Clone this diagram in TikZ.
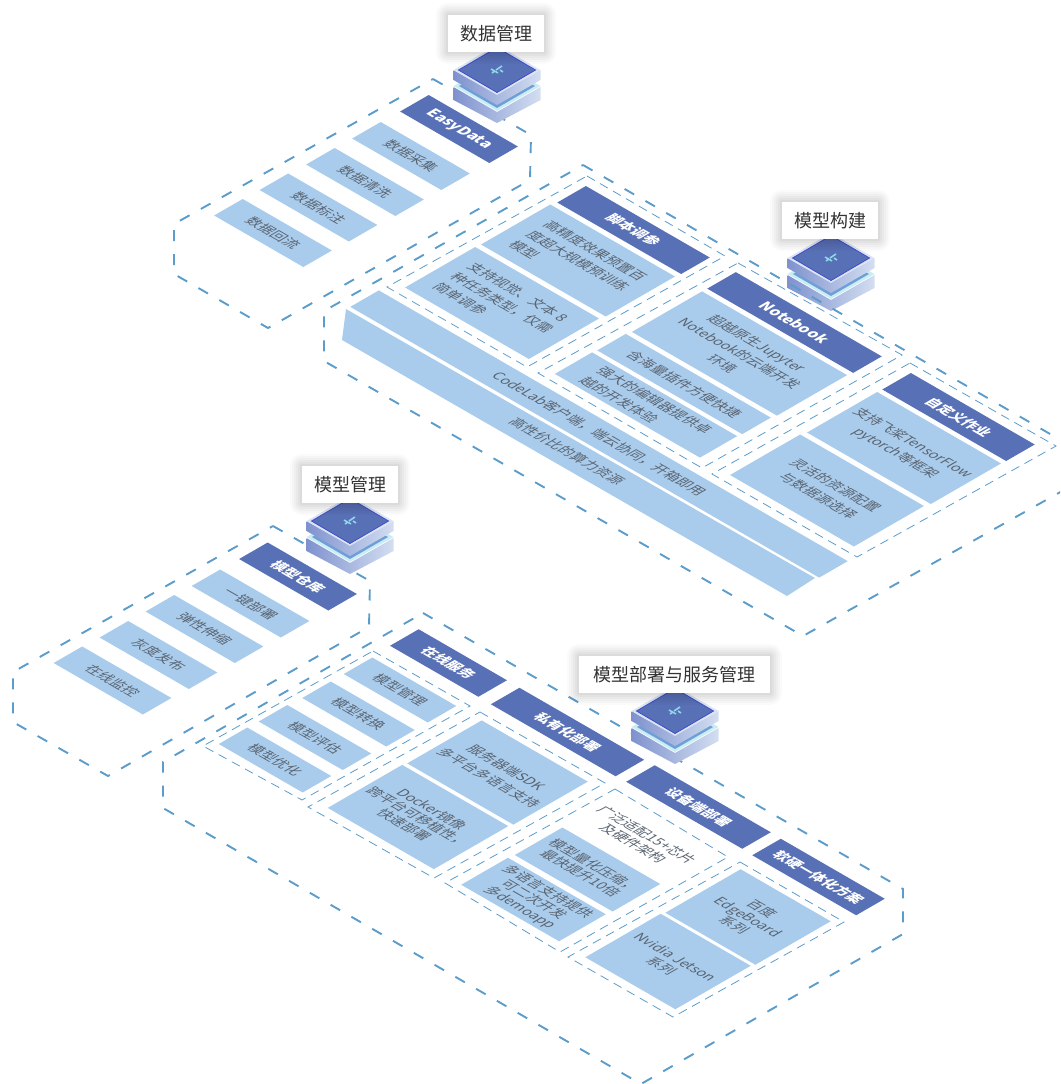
\documentclass[tikz,border=0pt]{standalone}
\usepackage{fontspec}
\setmainfont{Noto Sans CJK SC}
\usetikzlibrary{positioning,calc}
\definecolor{barlight}{HTML}{A9CCED}
\definecolor{bardark}{HTML}{5870B6}
\definecolor{dashblue}{HTML}{5B9CCB}
\definecolor{textgrey}{HTML}{5A6470}
\definecolor{slabdark}{HTML}{7F92CE}
\definecolor{slablight}{HTML}{D3DEF1}
\definecolor{platecyan}{HTML}{C9ECF5}
\definecolor{plateblue}{HTML}{6F9FD6}
\definecolor{platerim}{HTML}{DCE4F4}
\definecolor{platemark}{HTML}{8FD6EA}
\newcommand{\plates}[2]{
  \begin{scope}[shift={(#1,#2)}]
    \shade[left color=slabdark,right color=slablight] (-43.5,17) -- (0,42) -- (43.5,17) -- (43.5,30) -- (0,53) -- (-43.5,30) -- cycle;
    \fill[platecyan] (-43.5,16) -- (0,-9) -- (43.5,16) -- (0,41) -- cycle;
    \fill[plateblue] (-38,16) -- (0,-6) -- (38,16) -- (0,38) -- cycle;
    \shade[left color=slabdark,right color=slablight] (-43.5,0) -- (0,25) -- (43.5,0) -- (43.5,10) -- (0,35) -- (-43.5,10) -- cycle;
    \fill[platerim] (-43.5,0) -- (0,-25) -- (43.5,0) -- (0,25) -- cycle;
    \draw[fill=bardark,draw=bardark!70!blue,line width=.8pt] (-38.5,0) -- (0,-22.5) -- (38.5,0) -- (0,22.5) -- cycle;
    \draw[platemark,line width=1.6pt] (-6,-1) -- (1,3) (5,-4) -- (-1,0) (-5,3) -- (-2,1) (3,0) -- (6,2);
  \end{scope}
}

\begin{document}
\begin{tikzpicture}[x=1pt,y=-1pt,
    isobar/.style={transform shape,cm={.866,-.5,.866,.5,(0,0)},inner sep=0,align=center,font=\fontsize{14}{20}\selectfont},
    lightbar/.style={isobar,fill=barlight,text=textgrey},
    darkbar/.style={isobar,fill=bardark,text=white,font=\fontsize{14}{20}\selectfont\bfseries},
    latinbar/.style={isobar,fill=bardark,text=white,font=\fontsize{15}{20}\selectfont\bfseries},
    barsize/.style 2 args={minimum width=#1pt,minimum height=#2pt},
    tight/.style={font=\fontsize{14}{16}\selectfont},
    outerline/.style={draw=dashblue,line width=1.9pt,dash pattern=on 11pt off 13pt},
    innerline/.style={draw=dashblue,line width=.8pt,dash pattern=on 9pt off 6pt},
    tagbox/.style={fill=white,text=black!80,inner sep=0,minimum height=37pt,font=\fontsize{18}{20}\selectfont,
      preaction={draw=black,opacity=.02,line width=24pt,line join=round},preaction={draw=black,opacity=.02,line width=20pt,line join=round},
      preaction={draw=black,opacity=.025,line width=16pt,line join=round},preaction={draw=black,opacity=.025,line width=12pt,line join=round},
      preaction={draw=black,opacity=.03,line width=8pt,line join=round},preaction={draw=black,opacity=.03,line width=4pt,line join=round}}]
  \useasboundingbox (0,0) rectangle (1060,1084);
  \clip (0,0) rectangle (1060,1084);

  % Plates under the lines of the build part
  \plates{831}{258}

  % Dashed panels
  \draw[outerline] (433,79) -- (531,135) -- (530,180) -- (268,328) -- (174,274) -- (174,224) -- cycle;
  \draw[outerline] (583,165) -- (1064,442) -- (1064,490) -- (803,636) -- (324,361) -- (324,311) -- cycle;
  \draw[outerline] (273,526) -- (370,581) -- (369,627) -- (108,776) -- (13,722) -- (13,672) -- cycle;
  \draw[outerline] (423,613) -- (903,889) -- (903,934) -- (641,1084) -- (163,808) -- (163,762) -- cycle;

  % Thin panels of the build part
  \draw[innerline] (587,176) -- (725,256) -- (527,367) -- (387,287) -- cycle;
  \draw[innerline] (738,263) -- (902,355) -- (702,468) -- (538,373) -- cycle;
  \draw[innerline] (910,363) -- (1056,446) -- (857,557) -- (712,474) -- cycle;

  % Thin panels of the deploy part
  \draw[innerline] (373,651) -- (470,706) -- (302,800) -- (203,746) -- cycle;
  \draw[innerline] (480,712) -- (605,783) -- (434,878) -- (308,807) -- cycle;
  \draw[innerline] (615,789) -- (728,857) -- (560,952) -- (445,883) -- cycle;
  \draw[innerline] (740,862) -- (844,922) -- (673,1017) -- (568,957) -- cycle;

  % Bars for the data part
  \node[latinbar,barsize={103}{33}] (easydata) at (459,129) {EasyData};
  \node[lightbar,barsize={103}{33}] (collect) at (411,156) {数据采集};
  \node[lightbar,barsize={103}{33}] (clean) at (365,182) {数据清洗};
  \node[lightbar,barsize={103}{33}] (tagging) at (318.5,207.5) {数据标注};
  \node[lightbar,barsize={103}{33}] (backflow) at (273,233) {数据回流};

  % Bars for the build part
  \node[darkbar,barsize={143}{33}] (script) at (633.5,230) {脚本调参};
  \node[lightbar,barsize={144}{80}] (preset) at (578,260.5) [align=left] {高精度效果预置百\\度超大规模预训练\\模型};
  \node[lightbar,barsize={143}{81}] (tasks) at (502,303) [align=left] {支持视觉、文本 8\\种任务类型，仅需\\简单调参};
  \node[latinbar,barsize={168.5}{33}] (notebook) at (794.5,322.5) {Notebook};
  \node[lightbar,barsize={167.5}{81}] (jupyter) at (739.5,353.5) {超越原生Jupyter\\Notebook的云端开发\\环境};
  \node[lightbar,barsize={167.5}{33}] (plugin) at (684,384) {含海量插件方便快捷};
  \node[lightbar,barsize={167.5}{43}] (editor) at (646,405) [align=left] {强大的编辑器提供卓\\越的开发体验};
  \node[darkbar,barsize={143}{33}] (custom) at (958.5,417) {自定义作业};
  \node[lightbar,barsize={143}{81}] (frames) at (904,448) {支持飞桨TensorFlow\\pytorch等框架};
  \node[lightbar,barsize={143}{81}] (source) at (827,490.5) {灵活的资源配置\\与数据源选择};
  \node[lightbar,barsize={541.5}{33}] (codelab) at (599,434) {CodeLab客户端，端云协同，开箱即用};
  \fill[barlight] (346,309) -- (815,578) -- (787,596) -- (342,340) -- cycle;
  \node[isobar,text=textgrey] (power) at (567,451) {高性价比的算力资源};

  % Bars for the model part
  \node[darkbar,barsize={103}{33}] (store) at (298,576.5) {模型仓库};
  \node[lightbar,barsize={103}{33}] (oneclick) at (250.5,603.5) {一键部署};
  \node[lightbar,barsize={103}{33}] (elastic) at (204.5,629) {弹性伸缩};
  \node[lightbar,barsize={103}{33}] (gray) at (158.5,655) {灰度发布};
  \node[lightbar,barsize={103}{33}] (monitor) at (112.5,680.5) {在线监控};

  % Bars for the deploy part
  \node[darkbar,barsize={102}{33}] (online) at (448.5,663) {在线服务};
  \node[lightbar,barsize={97}{33}] (manage) at (400,690) {模型管理};
  \node[lightbar,barsize={97}{33}] (convert) at (358.5,714) {模型转换};
  \node[lightbar,barsize={97}{33}] (assess) at (315,737.5) {模型评估};
  \node[lightbar,barsize={97}{33}] (optimize) at (275,760) {模型优化};
  \node[darkbar,barsize={144}{33}] (private) at (567.5,732) {私有化部署};
  \node[lightbar,barsize={122.5}{86}] (sdk) at (497.5,772.5) {服务器端SDK\\多平台多语言支持};
  \node[lightbar,barsize={122.5}{86},tight] (docker) at (418,817) {Docker镜像\\跨平台可移植性，\\快速部署};
  \node[darkbar,barsize={134}{33}] (device) at (698.5,807) {设备端部署};
  \node[isobar,text=textgrey,tight] (chips) at (640,839) {广泛适配15+芯片\\及硬件架构};
  \node[lightbar,barsize={113}{55},tight] (quant) at (587.5,869.5) {模型量化压缩，\\最快提升10倍};
  \node[lightbar,barsize={113}{54},tight] (demo) at (533.5,899.5) {多语言支持提供\\可二次开发\\多demoapp};
  \node[darkbar,barsize={120}{33}] (soft) at (818.5,877) {软硬一体化方案};
  \node[lightbar,barsize={104}{87},tight] (baidu) at (748,917) {百度\\EdgeBoard\\系列};
  \node[lightbar,barsize={104}{87},tight] (jetson) at (668,961.5) {Nvidia Jetson\\系列};

  % Plates above the other parts
  \foreach \cx/\cy in {497/70,350/521,675/711}{
    \plates{\cx}{\cy}
  }

  % Titles
  \node[tagbox,minimum width=96pt] (tagdata) at (496,33.5) {数据管理};
  \node[tagbox,minimum width=96pt] (tagbuild) at (830,220.5) {模型构建};
  \node[tagbox,minimum width=96pt] (tagmodel) at (350,484.5) {模型管理};
  \node[tagbox,minimum width=191pt] (tagdeploy) at (674.5,674.5) {模型部署与服务管理};
\end{tikzpicture}
\end{document}
